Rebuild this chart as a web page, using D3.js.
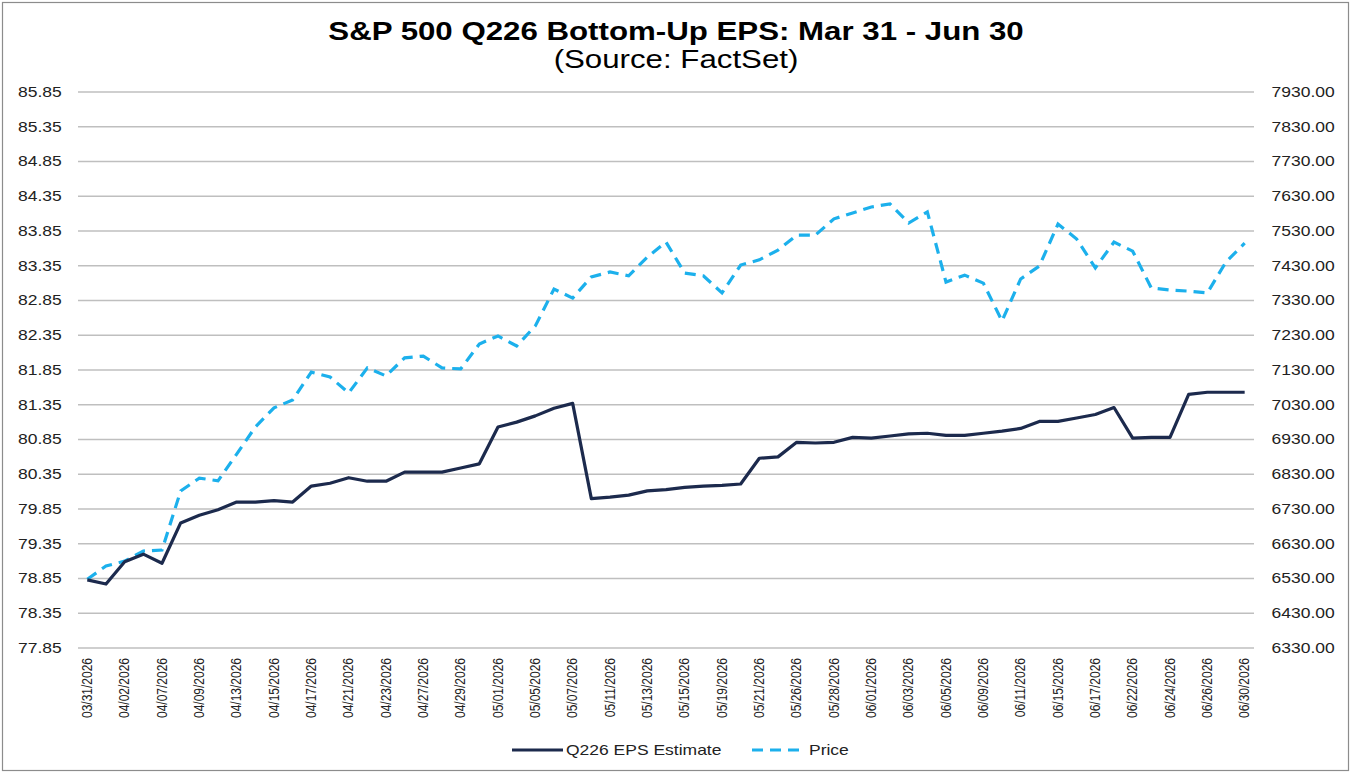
<!DOCTYPE html>
<html>
<head>
<meta charset="utf-8">
<script src="https://cdn.jsdelivr.net/npm/d3@7"></script>
<style>
	body { margin: 0; background: #fff; }
	#chart { width: 1351px; height: 773px; }
	text { font-family: "Liberation Sans", Arial, sans-serif; }
</style>
</head>
<body>
<div id="chart"></div>
<script>
// Trading days, Mar 31 - Jun 30 2026
var dates = [
	'03/31/2026','04/01/2026','04/02/2026','04/06/2026','04/07/2026','04/08/2026','04/09/2026','04/10/2026',
	'04/13/2026','04/14/2026','04/15/2026','04/16/2026','04/17/2026','04/20/2026','04/21/2026','04/22/2026',
	'04/23/2026','04/24/2026','04/27/2026','04/28/2026','04/29/2026','04/30/2026','05/01/2026','05/04/2026',
	'05/05/2026','05/06/2026','05/07/2026','05/08/2026','05/11/2026','05/12/2026','05/13/2026','05/14/2026',
	'05/15/2026','05/18/2026','05/19/2026','05/20/2026','05/21/2026','05/22/2026','05/26/2026','05/27/2026',
	'05/28/2026','05/29/2026','06/01/2026','06/02/2026','06/03/2026','06/04/2026','06/05/2026','06/08/2026',
	'06/09/2026','06/10/2026','06/11/2026','06/12/2026','06/15/2026','06/16/2026','06/17/2026','06/18/2026',
	'06/22/2026','06/23/2026','06/24/2026','06/25/2026','06/26/2026','06/29/2026','06/30/2026'
];

// Q226 EPS estimate (left axis)
var eps = [
	78.83, 78.77, 79.09, 79.20, 79.07, 79.65, 79.76, 79.84,
	79.95, 79.95, 79.97, 79.95, 80.18, 80.22, 80.30, 80.25,
	80.25, 80.38, 80.38, 80.38, 80.44, 80.50, 81.03, 81.10,
	81.19, 81.30, 81.37, 80.00, 80.02, 80.05, 80.11, 80.13,
	80.16, 80.18, 80.19, 80.21, 80.58, 80.60, 80.81, 80.80,
	80.81, 80.88, 80.87, 80.90, 80.93, 80.94, 80.91, 80.91,
	80.94, 80.97, 81.01, 81.11, 81.11, 81.16, 81.21, 81.31,
	80.87, 80.88, 80.88, 81.50, 81.53, 81.53, 81.53
];

// S&P 500 price (right axis)
var price = [
	6528, 6566, 6580, 6609, 6612, 6782, 6819, 6811,
	6888, 6966, 7021, 7044, 7124, 7110, 7064, 7136,
	7113, 7165, 7170, 7136, 7133, 7205, 7228, 7199,
	7257, 7363, 7337, 7398, 7412, 7401, 7455, 7498,
	7409, 7401, 7352, 7432, 7447, 7475, 7518, 7518,
	7565, 7582, 7599, 7608, 7553, 7585, 7383, 7403,
	7380, 7271, 7392, 7429, 7550, 7507, 7424, 7498,
	7472, 7366, 7360, 7357, 7352, 7441, 7495
];

var epsTicks = d3.range(0, 17).map(function(i) { return 77.85 + i * 0.5; });
var priceTicks = d3.range(0, 17).map(function(i) { return 6330 + i * 100; });

// the source picture is stretched sideways, so text is too
var stretch = 'scale(1.25,1)';

var fullWidth = 1351, fullHeight = 773;
var margin = {top: 92, right: 97, bottom: 125, left: 78};
var width = fullWidth - margin.left - margin.right;
var height = fullHeight - margin.top - margin.bottom;

var svg = d3.select('#chart')
	.append('svg')
	.attr('width', fullWidth)
	.attr('height', fullHeight);

// Outer border
svg.append('rect')
	.attr('x', 2.5).attr('y', 2.5)
	.attr('width', fullWidth - 5).attr('height', fullHeight - 5)
	.attr('fill', '#fff')
	.attr('stroke', '#8c8c8c')
	.attr('stroke-width', 1.2);

// Title
svg.append('text')
	.attr('transform', 'translate(676,40) ' + stretch)
	.attr('text-anchor', 'middle')
	.attr('font-size', 25).attr('font-weight', 'bold')
	.attr('fill', '#000')
	.text('S&P 500 Q226 Bottom-Up EPS: Mar 31 - Jun 30');

svg.append('text')
	.attr('transform', 'translate(676,68) ' + stretch)
	.attr('text-anchor', 'middle')
	.attr('font-size', 25)
	.attr('fill', '#000')
	.text('(Source: FactSet)');

var g = svg.append('g')
	.attr('transform', 'translate(' + margin.left + ',' + margin.top + ')');

var xScale = d3.scaleBand()
	.domain(dates)
	.range([0, width])
	.paddingInner(0);

var yLeft = d3.scaleLinear()
	.domain([77.85, 85.85])
	.range([height, 0]);

var yRight = d3.scaleLinear()
	.domain([6330, 7930])
	.range([height, 0]);

function xc(d) { return xScale(d) + xScale.bandwidth() / 2; }

// Gridlines
g.append('g')
	.selectAll('line')
	.data(epsTicks)
	.enter()
	.append('line')
	.attr('x1', 0).attr('x2', width)
	.attr('y1', function(d) { return yLeft(d); })
	.attr('y2', function(d) { return yLeft(d); })
	.attr('stroke', '#bfbfbf')
	.attr('stroke-width', 1.5);

// Left axis
var leftAxis = g.append('g')
	.call(d3.axisLeft(yLeft).tickValues(epsTicks).tickFormat(d3.format('.2f')).tickSize(0).tickPadding(13));
leftAxis.select('.domain').remove();
leftAxis.selectAll('text')
	.attr('font-size', 14).attr('fill', '#222')
	.attr('font-family', '"Liberation Sans", Arial, sans-serif')
	.attr('transform', stretch);

// Right axis
var rightAxis = g.append('g')
	.attr('transform', 'translate(' + width + ',0)')
	.call(d3.axisRight(yRight).tickValues(priceTicks).tickFormat(d3.format('.2f')).tickSize(0).tickPadding(14));
rightAxis.select('.domain').remove();
rightAxis.selectAll('text')
	.attr('font-size', 14).attr('fill', '#222')
	.attr('font-family', '"Liberation Sans", Arial, sans-serif')
	.attr('transform', stretch);

// Bottom axis, every other trading day
var shown = dates.filter(function(d, i) { return i % 2 === 0; });
var bottomAxis = g.append('g')
	.attr('transform', 'translate(0,' + height + ')')
	.call(d3.axisBottom(xScale).tickValues(shown).tickSize(0).tickPadding(0));
bottomAxis.select('.domain').remove();
bottomAxis.selectAll('text')
	.attr('font-size', 12).attr('fill', '#222')
	.attr('font-family', '"Liberation Sans", Arial, sans-serif')
	.attr('transform', stretch + ' rotate(-90)')
	.attr('text-anchor', 'end')
	.attr('dx', '-10')
	.attr('dy', '0.32em')
	.attr('x', 0).attr('y', 0);

// Lines
var epsLine = d3.line()
	.x(function(d, i) { return xc(dates[i]); })
	.y(function(d) { return yLeft(d); });

var priceLine = d3.line()
	.x(function(d, i) { return xc(dates[i]); })
	.y(function(d) { return yRight(d); });

g.append('path')
	.datum(price)
	.attr('d', priceLine)
	.attr('fill', 'none')
	.attr('stroke', '#1cb0ec')
	.attr('stroke-width', 3.2)
	.attr('stroke-dasharray', '11,7');

g.append('path')
	.datum(eps)
	.attr('d', epsLine)
	.attr('fill', 'none')
	.attr('stroke', '#1c2a4d')
	.attr('stroke-width', 3.2)
	.attr('stroke-linejoin', 'round');

// Legend
var legend = svg.append('g').attr('transform', 'translate(0,750)');
legend.append('line')
	.attr('x1', 512).attr('x2', 563)
	.attr('stroke', '#1c2a4d').attr('stroke-width', 3.2);
legend.append('text')
	.attr('transform', 'translate(566,5) ' + stretch)
	.attr('font-size', 14).attr('fill', '#222')
	.text('Q226 EPS Estimate');
legend.append('line')
	.attr('x1', 752).attr('x2', 801)
	.attr('stroke', '#1cb0ec').attr('stroke-width', 3.2)
	.attr('stroke-dasharray', '11,7');
legend.append('text')
	.attr('transform', 'translate(809,5) ' + stretch)
	.attr('font-size', 14).attr('fill', '#222')
	.text('Price');
</script>
</body>
</html>
